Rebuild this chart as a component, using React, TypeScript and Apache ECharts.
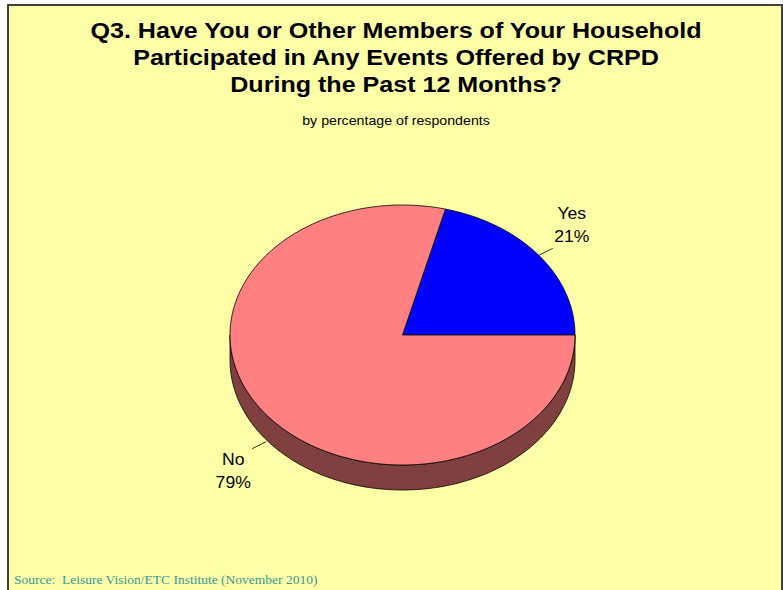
import React, { useEffect, useRef } from "react";
import * as echarts from "echarts";

const categories = ["Yes", "No"];
const values = [21, 79];
const sliceColors = ["#0000FF", "#FF8080"];
const wallColors = ["#00007F", "#804040"];

const titleText =
  "Q3. Have You or Other Members of Your Household\nParticipated in Any Events Offered by CRPD\nDuring the Past 12 Months?";
const subtitleText = "by percentage of respondents";
const sourceText = "Source:  Leisure Vision/ETC Institute (November 2010)";

// layout
const CX = 402.5;
const CY = 335;
const RX = 172.5;
const RY = 130;
const DEPTH = 25;
const START = (-75.6 * Math.PI) / 180;

function ellipsePt(a: number, dy = 0): number[] {
  return [CX + RX * Math.cos(a), CY + RY * Math.sin(a) + dy];
}

function arcPts(a0: number, a1: number, dy = 0): number[][] {
  const n = Math.max(2, Math.ceil(((a1 - a0) * 180) / Math.PI));
  const pts: number[][] = [];
  for (let k = 0; k <= n; k++) pts.push(ellipsePt(a0 + ((a1 - a0) * k) / n, dy));
  return pts;
}

export default function App() {
  const ref = useRef<HTMLDivElement>(null);
  useEffect(() => {
    if (!ref.current) return;
    const chart = echarts.init(ref.current, undefined, { renderer: "svg" });
    const total = values.reduce((s, v) => s + v, 0);

    const renderItem = (params: any, api: any) => {
      const i = params.dataIndex;
      const v = api.value(0);
      let before = 0;
      for (let j = 0; j < i; j++) before += values[j];
      const a0 = START + (before / total) * 2 * Math.PI;
      const a1 = START + ((before + v) / total) * 2 * Math.PI;
      const children: any[] = [];
      // side wall (front half only)
      for (let k = -1; k <= 1; k++) {
        const lo = Math.max(a0, 2 * Math.PI * k);
        const hi = Math.min(a1, 2 * Math.PI * k + Math.PI);
        if (hi > lo) {
          const pts = arcPts(lo, hi).concat(arcPts(lo, hi, DEPTH).reverse());
          children.push({
            type: "polygon",
            shape: { points: pts },
            style: { fill: wallColors[i], stroke: "#000", lineWidth: 0.8 },
          });
        }
      }
      // top face
      children.push({
        type: "polygon",
        shape: { points: [[CX, CY]].concat(arcPts(a0, a1)) },
        style: { fill: sliceColors[i], stroke: "#000", lineWidth: 0.8 },
      });
      // label
      const mid = (a0 + a1) / 2;
      const c = Math.cos(mid);
      const s = Math.sin(mid);
      const p = ellipsePt(mid, s > 0 ? DEPTH + 2 : 0);
      const sx = c >= 0 ? 1 : -1;
      const sy = s >= 0 ? 1 : -1;
      const e = [p[0] + 14 * sx, p[1] + 7 * sy];
      children.push({
        type: "line",
        shape: { x1: p[0], y1: p[1], x2: e[0], y2: e[1] },
        style: { stroke: "#000", lineWidth: 0.8 },
      });
      children.push({
        type: "text",
        x: e[0] + 19 * sx,
        y: e[1] + 23 * sy,
        scaleX: 1.1,
        style: {
          text: categories[i] + "\n" + v + "%",
          x: 0,
          y: 0,
          align: "center",
          verticalAlign: "middle",
          fontFamily: "Liberation Sans",
          fontSize: 16,
          lineHeight: 23,
          fill: "#000",
        },
      });
      return { type: "group", children };
    };

    chart.setOption({
      animation: false,
      backgroundColor: "#FFFFFF",
      graphic: [
        {
          type: "rect",
          z: -10,
          shape: { x: 8, y: 5, width: 774, height: 600 },
          style: { fill: "#FFFFA8", stroke: "#404040", lineWidth: 2 },
          silent: true,
        },
        {
          type: "text",
          x: 396,
          y: 17,
          scaleX: 1.14,
          style: {
            text: titleText,
            x: 0,
            y: 0,
            align: "center",
            verticalAlign: "top",
            fontFamily: "Liberation Sans",
            fontWeight: "bold",
            fontSize: 22,
            lineHeight: 27,
            fill: "#000",
          },
        },
        {
          type: "text",
          x: 396,
          y: 114,
          scaleX: 1.135,
          style: {
            text: subtitleText,
            x: 0,
            y: 0,
            align: "center",
            verticalAlign: "top",
            fontFamily: "Liberation Sans",
            fontSize: 12.5,
            lineHeight: 14,
            fill: "#000",
          },
        },
        {
          type: "text",
          x: 14,
          y: 572,
          style: {
            text: sourceText,
            x: 0,
            y: 0,
            align: "left",
            verticalAlign: "top",
            fontFamily: "Liberation Serif",
            fontSize: 13.5,
            lineHeight: 15,
            fill: "#339999",
          },
        },
      ],
      series: [
        {
          type: "custom",
          coordinateSystem: "none",
          renderItem,
          data: values.map((v, i) => ({ name: categories[i], value: [v] })),
        },
      ],
    });
    return () => chart.dispose();
  }, []);
  return (
    <div style={{ position: "fixed", left: 0, top: 0, width: 783, height: 590 }}>
      <div ref={ref} style={{ width: 783, height: 590 }} />
    </div>
  );
}
